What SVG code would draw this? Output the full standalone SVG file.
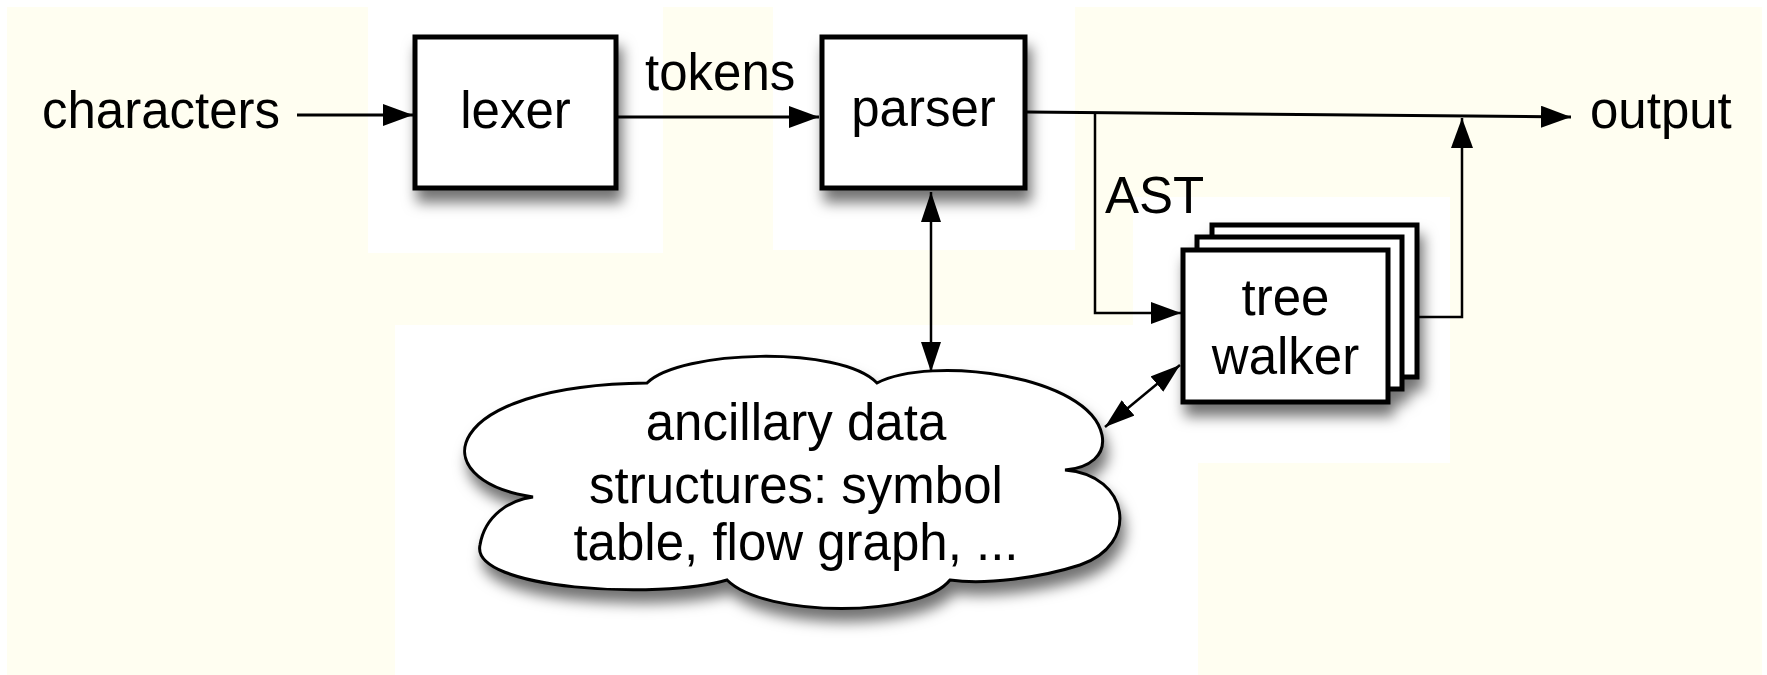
<svg xmlns="http://www.w3.org/2000/svg" width="1767" height="675" viewBox="0 0 1767 675">
<defs>
<style>
.bg{fill:#fffef1}
.wh{fill:#ffffff}
.box{fill:#ffffff;stroke:#000;stroke-width:5}
.cloud{fill:#ffffff;stroke:#000;stroke-width:3}
.lbl{font-family:"Liberation Sans",Arial,Helvetica,sans-serif;font-size:51px;fill:#000}
.mid{text-anchor:middle}
.conn{fill:none;stroke:#000;stroke-width:3}
.thin{fill:none;stroke:#000;stroke-width:2.5}
</style>
<filter id="sh" x="-20%" y="-20%" width="150%" height="160%">
<feDropShadow dx="4" dy="12" stdDeviation="7" flood-color="#000" flood-opacity="0.55"/>
</filter>
<marker id="ah" viewBox="0 0 30 22" refX="30" refY="11" markerWidth="30" markerHeight="22" markerUnits="userSpaceOnUse" orient="auto-start-reverse">
<path d="M0,0 L30,11 L0,22 Z" fill="#000"/>
</marker>
<marker id="as" viewBox="0 0 30 20" refX="30" refY="10" markerWidth="30" markerHeight="20" markerUnits="userSpaceOnUse" orient="auto-start-reverse">
<path d="M0,0 L30,10 L0,20 Z" fill="#000"/>
</marker>
</defs>

<g id="background">
<rect x="0" y="0" width="1767" height="675" class="wh"/>
<rect x="7" y="7" width="1755" height="668" class="bg"/>
<rect x="368" y="0" width="295" height="253" class="wh"/>
<rect x="773" y="0" width="302" height="250" class="wh"/>
<rect x="1133" y="197" width="317" height="266" class="wh"/>
<rect x="395" y="325" width="803" height="350" class="wh"/>
</g>

<g id="connectors">
<line x1="297" y1="115" x2="413" y2="115" class="conn" marker-end="url(#ah)"/>
<line x1="616" y1="117" x2="819" y2="117" class="conn" marker-end="url(#ah)"/>
<line x1="1027" y1="112" x2="1571" y2="117" class="conn" marker-end="url(#ah)"/>
<polyline points="1095,113 1095,313 1181,313" class="thin" marker-end="url(#ah)"/>
<polyline points="1417,317 1462,317 1462,118" class="thin" marker-end="url(#ah)"/>
<line x1="931" y1="192" x2="931" y2="372" class="thin" marker-start="url(#as)" marker-end="url(#as)"/>
<line x1="1105" y1="427" x2="1180" y2="365" class="thin" marker-start="url(#as)" marker-end="url(#as)"/>
</g>

<g id="label-characters">
<text x="42" y="128" class="lbl">characters</text>
</g>
<g id="label-tokens">
<text x="645" y="90" class="lbl">tokens</text>
</g>
<g id="label-output">
<text x="1590" y="128" class="lbl">output</text>
</g>
<g id="label-ast">
<text x="1105" y="213" class="lbl">AST</text>
</g>

<g id="lexer">
<rect x="415" y="37" width="201" height="151" class="box" filter="url(#sh)"/>
<text x="515.5" y="128" class="lbl mid">lexer</text>
</g>

<g id="parser">
<rect x="822" y="37" width="203" height="151" class="box" filter="url(#sh)"/>
<text x="923.5" y="126" class="lbl mid">parser</text>
</g>

<g id="tree-walker">
<g filter="url(#sh)">
<rect x="1212" y="225" width="205" height="152" class="box"/>
<rect x="1197" y="237" width="205" height="152" class="box"/>
<rect x="1183" y="250" width="205" height="152" class="box"/>
</g>
<text x="1285.5" y="315" class="lbl mid">tree</text>
<text x="1285.5" y="374" class="lbl mid">walker</text>
</g>

<g id="ancillary-data">
<path class="cloud" filter="url(#sh)" d="M647,383 C680,350 840,345 877,383 C930,355 1090,375 1102,435 C1106,455 1090,468 1065,470 C1130,475 1140,545 1080,565 C1040,578 985,585 950,580 C920,618 765,618 727,580 C660,600 470,590 480,545 C485,515 510,500 533,497 C420,480 440,385 647,383 Z"/>
<text x="796" y="440" class="lbl mid">ancillary data</text>
<text x="796" y="503" class="lbl mid">structures: symbol</text>
<text x="796" y="560" class="lbl mid">table, flow graph, ...</text>
</g>
</svg>
